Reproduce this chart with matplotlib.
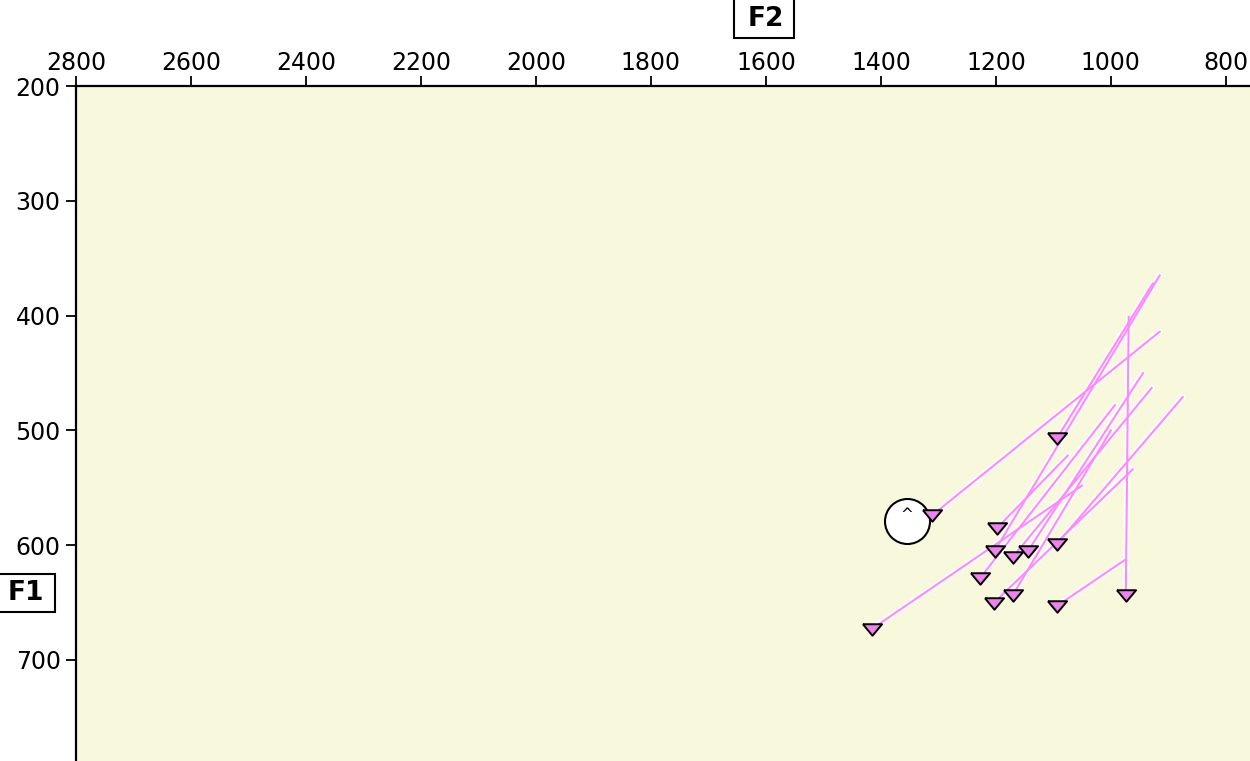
import numpy as np
import matplotlib.pyplot as plt
from matplotlib.patches import Rectangle

# formantide trajektoorid: algus (ülal paremal) -> lõpp (kolmnurk)
f2_algus = [915, 927, 1075, 915, 929, 944, 875, 993, 962, 1000, 976, 969, 1050]
f1_algus = [414, 372, 522, 365, 463, 450, 471, 478, 534, 500, 613, 401, 548]
f2_lopp = [1311, 1094, 1198, 1202, 1170, 1144, 1094, 1228, 1203, 1170, 1094, 974, 1416]
f1_lopp = [574, 507, 585, 605, 610, 605, 599, 629, 650, 643, 653, 643, 673]

# keskmine (ring)
f2_kesk = [1355]
f1_kesk = [579]
kesk_silt = ["^"]

x_ticks = [2800, 2600, 2400, 2200, 2000, 1800, 1600, 1400, 1200, 1000, 800]
y_ticks = [200, 300, 400, 500, 600, 700]

W, H = 1250, 761
fig = plt.figure(figsize=(12.5, 7.61), dpi=100)
ax = fig.add_axes([76 / W, 0, 1 - 76 / W, 1 - 86 / H])
ax.set_facecolor("#f8f8dc")

ax.set_xlim(2800, 758)
ax.set_ylim(788, 200)

# valge "halo" kõigepealt, siis roosad jooned
for i in range(len(f2_algus)):
    ax.plot([f2_algus[i], f2_lopp[i]], [f1_algus[i], f1_lopp[i]],
            color="white", lw=4, solid_capstyle="round", zorder=2)
for i in range(len(f2_algus)):
    ax.plot([f2_algus[i], f2_lopp[i]], [f1_algus[i], f1_lopp[i]],
            color="#ff88ff", lw=1.5, zorder=3)

kolmnurk = [(-1, 0.55), (1, 0.55), (0, -0.65), (-1, 0.55)]
ax.scatter(f2_lopp, f1_lopp, marker=kolmnurk, s=190, facecolor="#ee82ee",
           edgecolor="black", linewidth=1.4, zorder=5)

ax.scatter(f2_kesk, f1_kesk, s=1050, facecolor="white", edgecolor="black",
           linewidth=1.5, zorder=4)
for x, y, t in zip(f2_kesk, f1_kesk, kesk_silt):
    ax.text(x, y - 6, t, ha="center", va="center", fontsize=11, zorder=6)

ax.xaxis.tick_top()
ax.set_xticks(x_ticks)
ax.set_yticks(y_ticks)
ax.tick_params(axis="both", direction="out", length=7, width=1.3,
               labelsize=17)
ax.tick_params(axis="x", top=True, bottom=False, pad=1)
ax.tick_params(axis="y", pad=4)
for s in ["top", "left"]:
    ax.spines[s].set_linewidth(1.6)
for s in ["right", "bottom"]:
    ax.spines[s].set_visible(False)

# telgede nimed kastis
def kast(x0, y0, x1, y1):
    fig.patches.append(Rectangle((x0 / W, 1 - y1 / H), (x1 - x0) / W, (y1 - y0) / H,
                                 transform=fig.transFigure, facecolor="white",
                                 edgecolor="black", linewidth=1.5))

kast(734, -5, 794, 38)
kast(-5, 574, 55, 612)
fig.text(766 / W, 1 - 19 / H, "F2", ha="center", va="center",
         fontsize=19, fontweight="bold")
fig.text(26 / W, 1 - 593 / H, "F1", ha="center", va="center",
         fontsize=19, fontweight="bold")

fig.savefig("out.png", dpi=100)
